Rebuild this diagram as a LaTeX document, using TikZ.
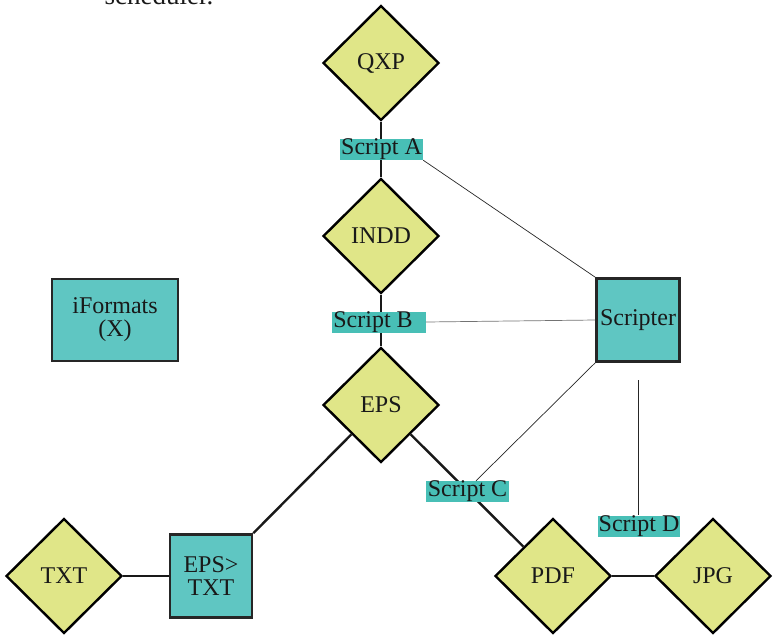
\documentclass[tikz,border=0pt]{standalone}
\usepackage{fontspec}
\setmainfont{Liberation Serif}
\usetikzlibrary{shapes.geometric}
\definecolor{dfill}{RGB}{224,230,136}
\definecolor{bfill}{RGB}{95,198,194}
\definecolor{lfill}{RGB}{72,191,182}
\newcommand{\dfont}{\fontsize{24}{26}\selectfont}
\tikzset{
  dia/.style={diamond, draw=black, line width=2.4pt, fill=dfill, minimum width=116pt, minimum height=115pt, inner sep=0pt, font=\dfont, text=black!90},
  sqbox/.style={rectangle, draw=black!85, line width=2.6pt, fill=bfill, inner sep=0pt, align=center, font=\dfont, text=black!90},
  lbl/.style={rectangle, fill=lfill, inner xsep=1pt, inner ysep=0pt, minimum height=21pt, font=\dfont, text=black!90},
  heavy/.style={line width=2.4pt, black!90},
  thin/.style={line width=0.7pt, black!85},
}
\begin{document}
\begin{tikzpicture}[x=1pt,y=-1pt]
\useasboundingbox (0,0) rectangle (775,635);
\clip (0,0) rectangle (775,635);
\node[anchor=base, font=\fontsize{27}{30}\selectfont, text=black!90] (sched) at (159,4) {scheduler.};
% nodes
\node[dia] (qxp) at (381,63) {QXP};
\node[dia] (indd) at (381,236) {INDD};
\node[dia] (eps) at (381,405) {EPS};
\node[dia] (txt) at (64,576) {TXT};
\node[dia] (pdf) at (553,576) {PDF};
\node[dia] (jpg) at (713,576) {JPG};
\node[sqbox, minimum width=126pt, minimum height=82pt] (ifm) at (115,320) {iFormats\\[-3pt](X)};
\node[sqbox, minimum width=83pt, minimum height=83pt] (scr) at (638,320) {Scripter};
\node[sqbox, minimum width=82pt, minimum height=83pt] (epstxt) at (211,576) {EPS>\\[-3pt]TXT};
% heavy connectors
\draw[heavy] (qxp.south) -- (indd.north);
\draw[heavy] (indd.south) -- (eps.north);
\draw[heavy] (eps.south west) -- (epstxt.north east);
\draw[heavy] (eps.south east) -- (pdf.north west);
\draw[heavy] (txt.east) -- (epstxt.west);
\draw[heavy] (pdf.east) -- (jpg.west);
% labels
\node[lbl, minimum width=83pt] (sa) at (381.5,149.5) {Script A};
\node[lbl, minimum width=88pt] (sb) at (379,322) {Script B\phantom{x}};
\node[lbl, minimum width=83pt] (sc) at (467.5,491.5) {Script C};
\node[lbl, minimum width=82pt] (sd) at (639,526) {Script D};
% thin connectors
\coordinate (sdtop) at (638,380);
\draw[thin] (sa.south east) -- (scr.north west);
\draw[line width=0.7pt, black!55] (sb.east) -- (scr.west);
\draw[thin] (scr.south west) -- (sc.north -| 476,0);
\draw[thin] (sdtop) -- (sd.north -| sdtop);
\end{tikzpicture}
\end{document}
